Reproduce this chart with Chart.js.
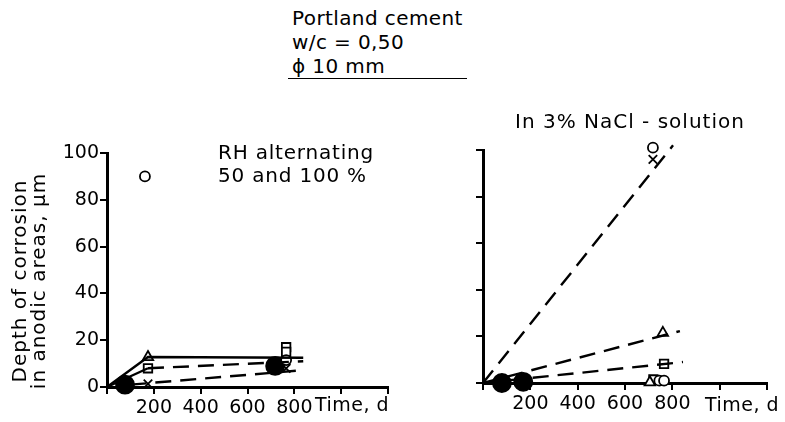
<!DOCTYPE html>
<html>
<head>
<meta charset="utf-8">
<script src="https://cdn.jsdelivr.net/npm/chart.js@4/dist/chart.umd.min.js"></script>
<style>
  body { margin: 0; background: #fff; }
  #wrap { position: relative; width: 785px; height: 422px; overflow: hidden; font-family: "DejaVu Sans", sans-serif; color: #000; }
  canvas { position: absolute; }
  .txt { position: absolute; font-size: 20px; white-space: nowrap; }
</style>
</head>
<body>
<div id="wrap">
  <canvas id="left" width="400" height="322" style="left:0;top:100px;width:400px;height:322px"></canvas>
  <canvas id="right" width="385" height="322" style="left:400px;top:100px;width:385px;height:322px"></canvas>

  <div class="txt" style="left:292px;top:6px;line-height:24px;letter-spacing:0.4px">Portland cement<br>w/c = 0,50<br>ϕ 10 mm</div>
  <div style="position:absolute;left:288px;top:78px;width:179px;height:0;border-top:1.5px solid #000"></div>

  <div class="txt" style="left:218px;top:141px;line-height:23px;letter-spacing:0.8px">RH alternating<br>50 and 100 %</div>
  <div class="txt" style="left:515px;top:109px;letter-spacing:1px">In 3% NaCl - solution</div>

  <div class="txt" style="left:-91px;top:262px;width:240px;text-align:center;line-height:19px;letter-spacing:1px;transform:rotate(-90deg)">Depth of corrosion<br>in anodic areas, μm</div>

  <div class="txt" style="left:315px;top:393px;font-size:19px;letter-spacing:0.5px">Time, d</div>
  <div class="txt" style="left:705px;top:393px;font-size:19px;letter-spacing:0.5px">Time, d</div>
</div>
<script>
// ---- data (days, depth µm) ----
const xTickLabels = [200, 400, 600, 800];
const yTickLabels = [0, 20, 40, 60, 80, 100];

// RH alternating 50 and 100 %
const rhSolid1 = [[0, 0], [175, 12.8], [838, 12.5]];
const rhSolid2 = [[0, 0], [175, 8]];
const rhDash1 = [[175, 8], [838, 11]];
const rhDash2 = [[100, 1], [838, 7.2]];
const rhFilled = [[77, 1], [718, 9]];
const rhCircle = [[162, 90], [765, 11.5]];
const rhTriangle = [[175, 12.8]];
const rhSquare = [[175, 8], [765, 17], [765, 15]];
const rhCross = [[175, 1.3], [765, 8]];

// In 3% NaCl solution
const naDash1 = [[0, 0], [803, 102]];
const naDash2 = [[0, 0], [832, 22.3]];
const naDash3 = [[0, 0], [845, 9]];
const naFilled = [[80, 0], [170, 0.5]];
const naCircle = [[718, 101], [745, 1], [765, 1]];
const naCross = [[718, 96], [730, 1]];
const naTriangle = [[760, 21.5], [705, 0.3]];
const naSquare = [[765, 8.2], [720, 1.5]];

const pts = a => a.map(([x, y]) => ({ x, y }));
const FONT = { family: 'DejaVu Sans', size: 19 };

function lineSet(arr, dashed) {
  return {
    data: pts(arr), showLine: true, pointRadius: 0, borderColor: '#000',
    borderWidth: 2.4, borderDash: dashed ? [16, 9] : [], clip: false
  };
}
function markSet(arr, style, r, filled) {
  return {
    data: pts(arr), showLine: false, pointStyle: style, pointRadius: r,
    borderColor: '#000', backgroundColor: filled ? '#000' : '#fff',
    pointBorderWidth: 1.8, clip: false
  };
}

function makeChart(id, datasets, opts) {
  return new Chart(document.getElementById(id), {
    type: 'scatter',
    data: { datasets },
    options: {
      responsive: false,
      animation: false,
      devicePixelRatio: 1,
      layout: { padding: { top: opts.top, right: opts.right, left: 0, bottom: 0 } },
      plugins: { legend: { display: false }, tooltip: { enabled: false } },
      scales: {
        x: {
          type: 'linear', min: 0, max: 1200,
          afterFit: s => { s.height = opts.xh; },
          border: { display: true, color: '#000', width: 3 },
          grid: { drawOnChartArea: false, drawTicks: true, tickLength: 7, color: '#000', lineWidth: 2 },
          ticks: {
            stepSize: 200, autoSkip: false, maxRotation: 0, padding: 3, color: '#000', font: FONT,
            callback: v => xTickLabels.includes(v) ? String(v) : ''
          }
        },
        y: {
          type: 'linear', min: 0, max: 100,
          afterFit: s => { s.width = opts.yw; },
          border: { display: true, color: '#000', width: 3 },
          grid: { drawOnChartArea: false, drawTicks: true, tickLength: 7, color: '#000', lineWidth: 2 },
          ticks: {
            stepSize: 20, padding: 1, color: '#000', font: FONT,
            callback: v => opts.yLabels && yTickLabels.includes(v) ? String(v) : ''
          }
        }
      }
    }
  });
}

makeChart('left', [
  lineSet(rhSolid1, false),
  lineSet(rhSolid2, false),
  lineSet(rhDash1, true),
  lineSet(rhDash2, true),
  markSet(rhCircle, 'circle', 5, false),
  markSet(rhTriangle, 'triangle', 6, false),
  markSet(rhSquare, 'rect', 6, false),
  markSet(rhCross, 'crossRot', 6, false),
  markSet(rhFilled, 'circle', 9, true)
], { top: 53, right: 12, xh: 35, yw: 107, yLabels: true });

makeChart('right', [
  lineSet(naDash1, true),
  lineSet(naDash2, true),
  lineSet(naDash3, true),
  markSet(naCircle, 'circle', 5, false),
  markSet(naTriangle, 'triangle', 6, false),
  markSet(naSquare, 'rect', 6, false),
  markSet(naCross, 'crossRot', 6, false),
  markSet(naFilled, 'circle', 9, true)
], { top: 50, right: 18, xh: 39, yw: 83, yLabels: false });
</script>
</body>
</html>
